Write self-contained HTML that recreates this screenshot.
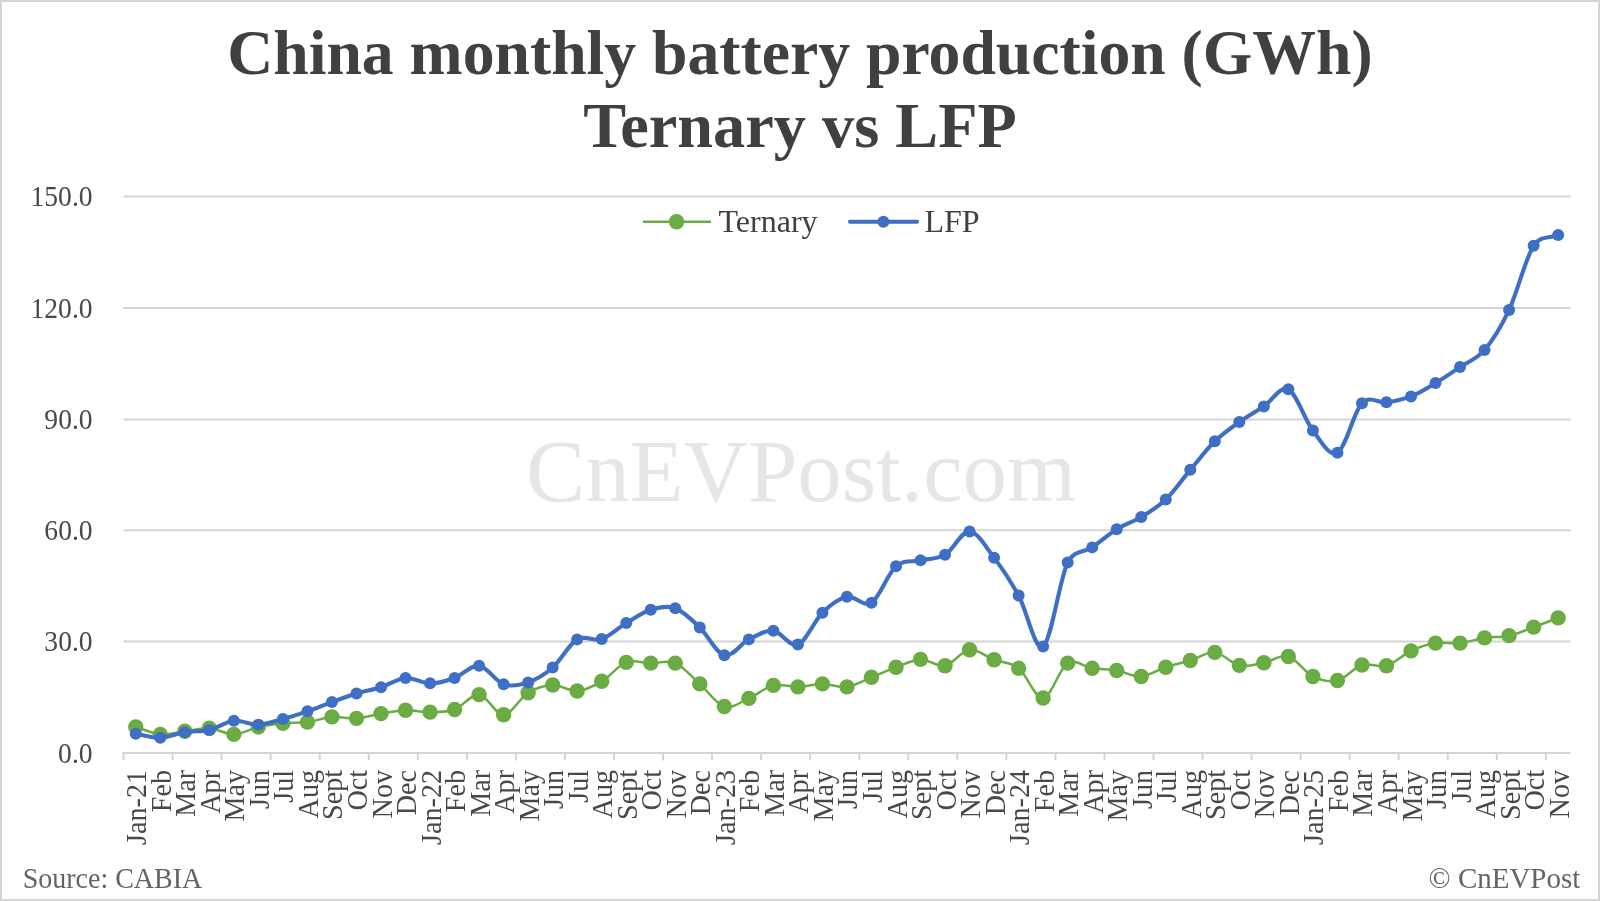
<!DOCTYPE html>
<html><head><meta charset="utf-8"><title>China monthly battery production</title>
<style>
html,body{margin:0;padding:0;background:#fff;}
body{width:1600px;height:901px;overflow:hidden;position:relative;}
svg{display:block;position:absolute;left:0;top:0;will-change:transform;}
text{font-family:"Liberation Serif",serif;}
</style></head><body>
<svg width="1600" height="901" viewBox="0 0 1600 901">
<rect x="0" y="0" width="1600" height="901" fill="#fff"/>
<rect x="1" y="1" width="1598" height="899" fill="none" stroke="#d6d6d6" stroke-width="2"/>
<text x="800" y="74" text-anchor="middle" font-weight="bold" font-size="63.7" fill="#404040">China monthly battery production (GWh)</text>
<text x="800" y="146.5" text-anchor="middle" font-weight="bold" font-size="64.3" fill="#404040">Ternary vs LFP</text>
<text x="801" y="500.8" text-anchor="middle" font-size="88.8" fill="#e6e6e6">CnEVPost.com</text>
<line x1="123.5" y1="641.56" x2="1570.4" y2="641.56" stroke="#d4d4d4" stroke-width="2"/>
<line x1="123.5" y1="530.33" x2="1570.4" y2="530.33" stroke="#d4d4d4" stroke-width="2"/>
<line x1="123.5" y1="419.55" x2="1570.4" y2="419.55" stroke="#d4d4d4" stroke-width="2"/>
<line x1="123.5" y1="308.00" x2="1570.4" y2="308.00" stroke="#d4d4d4" stroke-width="2"/>
<line x1="123.5" y1="196.44" x2="1570.4" y2="196.44" stroke="#d4d4d4" stroke-width="2"/>
<text transform="translate(92.6,762.80) scale(0.985,1.09)" text-anchor="end" font-size="28" fill="#484848">0.0</text>
<text transform="translate(92.6,651.46) scale(0.985,1.09)" text-anchor="end" font-size="28" fill="#484848">30.0</text>
<text transform="translate(92.6,540.23) scale(0.985,1.09)" text-anchor="end" font-size="28" fill="#484848">60.0</text>
<text transform="translate(92.6,429.45) scale(0.985,1.09)" text-anchor="end" font-size="28" fill="#484848">90.0</text>
<text transform="translate(92.6,317.90) scale(0.985,1.09)" text-anchor="end" font-size="28" fill="#484848">120.0</text>
<text transform="translate(92.6,206.34) scale(0.985,1.09)" text-anchor="end" font-size="28" fill="#484848">150.0</text>
<line x1="122.5" y1="752.90" x2="1570.4" y2="752.90" stroke="#d4d4d4" stroke-width="2"/>
<line x1="123.50" y1="752.90" x2="123.50" y2="760.40" stroke="#d4d4d4" stroke-width="2"/>
<line x1="172.55" y1="752.90" x2="172.55" y2="760.40" stroke="#d4d4d4" stroke-width="2"/>
<line x1="221.59" y1="752.90" x2="221.59" y2="760.40" stroke="#d4d4d4" stroke-width="2"/>
<line x1="270.64" y1="752.90" x2="270.64" y2="760.40" stroke="#d4d4d4" stroke-width="2"/>
<line x1="319.69" y1="752.90" x2="319.69" y2="760.40" stroke="#d4d4d4" stroke-width="2"/>
<line x1="368.74" y1="752.90" x2="368.74" y2="760.40" stroke="#d4d4d4" stroke-width="2"/>
<line x1="417.78" y1="752.90" x2="417.78" y2="760.40" stroke="#d4d4d4" stroke-width="2"/>
<line x1="466.83" y1="752.90" x2="466.83" y2="760.40" stroke="#d4d4d4" stroke-width="2"/>
<line x1="515.88" y1="752.90" x2="515.88" y2="760.40" stroke="#d4d4d4" stroke-width="2"/>
<line x1="564.93" y1="752.90" x2="564.93" y2="760.40" stroke="#d4d4d4" stroke-width="2"/>
<line x1="613.97" y1="752.90" x2="613.97" y2="760.40" stroke="#d4d4d4" stroke-width="2"/>
<line x1="663.02" y1="752.90" x2="663.02" y2="760.40" stroke="#d4d4d4" stroke-width="2"/>
<line x1="712.07" y1="752.90" x2="712.07" y2="760.40" stroke="#d4d4d4" stroke-width="2"/>
<line x1="761.12" y1="752.90" x2="761.12" y2="760.40" stroke="#d4d4d4" stroke-width="2"/>
<line x1="810.16" y1="752.90" x2="810.16" y2="760.40" stroke="#d4d4d4" stroke-width="2"/>
<line x1="859.21" y1="752.90" x2="859.21" y2="760.40" stroke="#d4d4d4" stroke-width="2"/>
<line x1="908.26" y1="752.90" x2="908.26" y2="760.40" stroke="#d4d4d4" stroke-width="2"/>
<line x1="957.31" y1="752.90" x2="957.31" y2="760.40" stroke="#d4d4d4" stroke-width="2"/>
<line x1="1006.35" y1="752.90" x2="1006.35" y2="760.40" stroke="#d4d4d4" stroke-width="2"/>
<line x1="1055.40" y1="752.90" x2="1055.40" y2="760.40" stroke="#d4d4d4" stroke-width="2"/>
<line x1="1104.45" y1="752.90" x2="1104.45" y2="760.40" stroke="#d4d4d4" stroke-width="2"/>
<line x1="1153.50" y1="752.90" x2="1153.50" y2="760.40" stroke="#d4d4d4" stroke-width="2"/>
<line x1="1202.54" y1="752.90" x2="1202.54" y2="760.40" stroke="#d4d4d4" stroke-width="2"/>
<line x1="1251.59" y1="752.90" x2="1251.59" y2="760.40" stroke="#d4d4d4" stroke-width="2"/>
<line x1="1300.64" y1="752.90" x2="1300.64" y2="760.40" stroke="#d4d4d4" stroke-width="2"/>
<line x1="1349.69" y1="752.90" x2="1349.69" y2="760.40" stroke="#d4d4d4" stroke-width="2"/>
<line x1="1398.73" y1="752.90" x2="1398.73" y2="760.40" stroke="#d4d4d4" stroke-width="2"/>
<line x1="1447.78" y1="752.90" x2="1447.78" y2="760.40" stroke="#d4d4d4" stroke-width="2"/>
<line x1="1496.83" y1="752.90" x2="1496.83" y2="760.40" stroke="#d4d4d4" stroke-width="2"/>
<line x1="1545.88" y1="752.90" x2="1545.88" y2="760.40" stroke="#d4d4d4" stroke-width="2"/>
<text transform="translate(146.26,770) rotate(-90) scale(1,1.08)" text-anchor="end" font-size="28.1" fill="#484848">Jan-21</text>
<text transform="translate(170.79,770) rotate(-90) scale(1,1.08)" text-anchor="end" font-size="28.1" fill="#484848">Feb</text>
<text transform="translate(195.31,770) rotate(-90) scale(1,1.08)" text-anchor="end" font-size="28.1" fill="#484848">Mar</text>
<text transform="translate(219.83,770) rotate(-90) scale(1,1.08)" text-anchor="end" font-size="28.1" fill="#484848">Apr</text>
<text transform="translate(244.36,770) rotate(-90) scale(1,1.08)" text-anchor="end" font-size="28.1" fill="#484848">May</text>
<text transform="translate(268.88,770) rotate(-90) scale(1,1.08)" text-anchor="end" font-size="28.1" fill="#484848">Jun</text>
<text transform="translate(293.40,770) rotate(-90) scale(1,1.08)" text-anchor="end" font-size="28.1" fill="#484848">Jul</text>
<text transform="translate(317.93,770) rotate(-90) scale(1,1.08)" text-anchor="end" font-size="28.1" fill="#484848">Aug</text>
<text transform="translate(342.45,770) rotate(-90) scale(1,1.08)" text-anchor="end" font-size="28.1" fill="#484848">Sept</text>
<text transform="translate(366.98,770) rotate(-90) scale(1,1.08)" text-anchor="end" font-size="28.1" fill="#484848">Oct</text>
<text transform="translate(391.50,770) rotate(-90) scale(1,1.08)" text-anchor="end" font-size="28.1" fill="#484848">Nov</text>
<text transform="translate(416.02,770) rotate(-90) scale(1,1.08)" text-anchor="end" font-size="28.1" fill="#484848">Dec</text>
<text transform="translate(440.55,770) rotate(-90) scale(1,1.08)" text-anchor="end" font-size="28.1" fill="#484848">Jan-22</text>
<text transform="translate(465.07,770) rotate(-90) scale(1,1.08)" text-anchor="end" font-size="28.1" fill="#484848">Feb</text>
<text transform="translate(489.59,770) rotate(-90) scale(1,1.08)" text-anchor="end" font-size="28.1" fill="#484848">Mar</text>
<text transform="translate(514.12,770) rotate(-90) scale(1,1.08)" text-anchor="end" font-size="28.1" fill="#484848">Apr</text>
<text transform="translate(538.64,770) rotate(-90) scale(1,1.08)" text-anchor="end" font-size="28.1" fill="#484848">May</text>
<text transform="translate(563.17,770) rotate(-90) scale(1,1.08)" text-anchor="end" font-size="28.1" fill="#484848">Jun</text>
<text transform="translate(587.69,770) rotate(-90) scale(1,1.08)" text-anchor="end" font-size="28.1" fill="#484848">Jul</text>
<text transform="translate(612.21,770) rotate(-90) scale(1,1.08)" text-anchor="end" font-size="28.1" fill="#484848">Aug</text>
<text transform="translate(636.74,770) rotate(-90) scale(1,1.08)" text-anchor="end" font-size="28.1" fill="#484848">Sept</text>
<text transform="translate(661.26,770) rotate(-90) scale(1,1.08)" text-anchor="end" font-size="28.1" fill="#484848">Oct</text>
<text transform="translate(685.78,770) rotate(-90) scale(1,1.08)" text-anchor="end" font-size="28.1" fill="#484848">Nov</text>
<text transform="translate(710.31,770) rotate(-90) scale(1,1.08)" text-anchor="end" font-size="28.1" fill="#484848">Dec</text>
<text transform="translate(734.83,770) rotate(-90) scale(1,1.08)" text-anchor="end" font-size="28.1" fill="#484848">Jan-23</text>
<text transform="translate(759.36,770) rotate(-90) scale(1,1.08)" text-anchor="end" font-size="28.1" fill="#484848">Feb</text>
<text transform="translate(783.88,770) rotate(-90) scale(1,1.08)" text-anchor="end" font-size="28.1" fill="#484848">Mar</text>
<text transform="translate(808.40,770) rotate(-90) scale(1,1.08)" text-anchor="end" font-size="28.1" fill="#484848">Apr</text>
<text transform="translate(832.93,770) rotate(-90) scale(1,1.08)" text-anchor="end" font-size="28.1" fill="#484848">May</text>
<text transform="translate(857.45,770) rotate(-90) scale(1,1.08)" text-anchor="end" font-size="28.1" fill="#484848">Jun</text>
<text transform="translate(881.97,770) rotate(-90) scale(1,1.08)" text-anchor="end" font-size="28.1" fill="#484848">Jul</text>
<text transform="translate(906.50,770) rotate(-90) scale(1,1.08)" text-anchor="end" font-size="28.1" fill="#484848">Aug</text>
<text transform="translate(931.02,770) rotate(-90) scale(1,1.08)" text-anchor="end" font-size="28.1" fill="#484848">Sept</text>
<text transform="translate(955.54,770) rotate(-90) scale(1,1.08)" text-anchor="end" font-size="28.1" fill="#484848">Oct</text>
<text transform="translate(980.07,770) rotate(-90) scale(1,1.08)" text-anchor="end" font-size="28.1" fill="#484848">Nov</text>
<text transform="translate(1004.59,770) rotate(-90) scale(1,1.08)" text-anchor="end" font-size="28.1" fill="#484848">Dec</text>
<text transform="translate(1029.12,770) rotate(-90) scale(1,1.08)" text-anchor="end" font-size="28.1" fill="#484848">Jan-24</text>
<text transform="translate(1053.64,770) rotate(-90) scale(1,1.08)" text-anchor="end" font-size="28.1" fill="#484848">Feb</text>
<text transform="translate(1078.16,770) rotate(-90) scale(1,1.08)" text-anchor="end" font-size="28.1" fill="#484848">Mar</text>
<text transform="translate(1102.69,770) rotate(-90) scale(1,1.08)" text-anchor="end" font-size="28.1" fill="#484848">Apr</text>
<text transform="translate(1127.21,770) rotate(-90) scale(1,1.08)" text-anchor="end" font-size="28.1" fill="#484848">May</text>
<text transform="translate(1151.73,770) rotate(-90) scale(1,1.08)" text-anchor="end" font-size="28.1" fill="#484848">Jun</text>
<text transform="translate(1176.26,770) rotate(-90) scale(1,1.08)" text-anchor="end" font-size="28.1" fill="#484848">Jul</text>
<text transform="translate(1200.78,770) rotate(-90) scale(1,1.08)" text-anchor="end" font-size="28.1" fill="#484848">Aug</text>
<text transform="translate(1225.31,770) rotate(-90) scale(1,1.08)" text-anchor="end" font-size="28.1" fill="#484848">Sept</text>
<text transform="translate(1249.83,770) rotate(-90) scale(1,1.08)" text-anchor="end" font-size="28.1" fill="#484848">Oct</text>
<text transform="translate(1274.35,770) rotate(-90) scale(1,1.08)" text-anchor="end" font-size="28.1" fill="#484848">Nov</text>
<text transform="translate(1298.88,770) rotate(-90) scale(1,1.08)" text-anchor="end" font-size="28.1" fill="#484848">Dec</text>
<text transform="translate(1323.40,770) rotate(-90) scale(1,1.08)" text-anchor="end" font-size="28.1" fill="#484848">Jan-25</text>
<text transform="translate(1347.92,770) rotate(-90) scale(1,1.08)" text-anchor="end" font-size="28.1" fill="#484848">Feb</text>
<text transform="translate(1372.45,770) rotate(-90) scale(1,1.08)" text-anchor="end" font-size="28.1" fill="#484848">Mar</text>
<text transform="translate(1396.97,770) rotate(-90) scale(1,1.08)" text-anchor="end" font-size="28.1" fill="#484848">Apr</text>
<text transform="translate(1421.50,770) rotate(-90) scale(1,1.08)" text-anchor="end" font-size="28.1" fill="#484848">May</text>
<text transform="translate(1446.02,770) rotate(-90) scale(1,1.08)" text-anchor="end" font-size="28.1" fill="#484848">Jun</text>
<text transform="translate(1470.54,770) rotate(-90) scale(1,1.08)" text-anchor="end" font-size="28.1" fill="#484848">Jul</text>
<text transform="translate(1495.07,770) rotate(-90) scale(1,1.08)" text-anchor="end" font-size="28.1" fill="#484848">Aug</text>
<text transform="translate(1519.59,770) rotate(-90) scale(1,1.08)" text-anchor="end" font-size="28.1" fill="#484848">Sept</text>
<text transform="translate(1544.11,770) rotate(-90) scale(1,1.08)" text-anchor="end" font-size="28.1" fill="#484848">Oct</text>
<text transform="translate(1568.64,770) rotate(-90) scale(1,1.08)" text-anchor="end" font-size="28.1" fill="#484848">Nov</text>
<path d="M135.76,726.93 C143.94,729.41 152.11,733.64 160.29,734.35 C168.46,735.06 176.63,732.22 184.81,731.20 C192.98,730.18 201.16,727.71 209.33,728.23 C217.51,728.76 225.68,734.57 233.86,734.35 C242.03,734.14 250.21,728.79 258.38,726.93 C266.56,725.08 274.73,724.03 282.90,723.22 C291.08,722.42 299.25,723.16 307.43,722.11 C315.60,721.06 323.78,717.53 331.95,716.92 C340.13,716.30 348.30,718.96 356.48,718.40 C364.65,717.84 372.82,714.94 381.00,713.58 C389.17,712.22 397.35,710.49 405.52,710.24 C413.70,709.99 421.87,712.22 430.05,712.09 C438.22,711.97 446.40,712.40 454.57,709.50 C462.74,706.59 470.92,693.79 479.09,694.66 C487.27,695.52 495.44,715.00 503.62,714.69 C511.79,714.38 519.97,697.75 528.14,692.80 C536.32,687.86 544.49,685.32 552.67,685.01 C560.84,684.70 569.01,691.57 577.19,690.95 C585.36,690.33 593.54,686.06 601.71,681.30 C609.89,676.54 618.06,665.41 626.24,662.38 C634.41,659.35 642.59,663.00 650.76,663.13 C658.93,663.25 667.11,659.66 675.28,663.13 C683.46,666.59 691.63,676.67 699.81,683.90 C707.98,691.13 716.16,704.12 724.33,706.53 C732.51,708.94 740.68,701.89 748.86,698.37 C757.03,694.84 765.20,687.30 773.38,685.38 C781.55,683.47 789.73,687.12 797.90,686.87 C806.08,686.62 814.25,683.90 822.43,683.90 C830.60,683.90 838.78,687.98 846.95,686.87 C855.12,685.76 863.30,680.50 871.47,677.22 C879.65,673.95 887.82,670.17 896.00,667.21 C904.17,664.24 912.35,659.66 920.52,659.42 C928.70,659.17 936.87,667.33 945.04,665.72 C953.22,664.12 961.39,650.76 969.57,649.77 C977.74,648.78 985.92,656.70 994.09,659.79 C1002.27,662.88 1010.44,661.95 1018.62,668.32 C1026.79,674.69 1034.97,698.86 1043.14,698.00 C1051.31,697.13 1059.49,668.07 1067.66,663.13 C1075.84,658.18 1084.01,667.08 1092.19,668.32 C1100.36,669.56 1108.54,669.19 1116.71,670.55 C1124.89,671.91 1133.06,677.04 1141.23,676.48 C1149.41,675.92 1157.58,669.87 1165.76,667.21 C1173.93,664.55 1182.11,663.00 1190.28,660.53 C1198.46,658.06 1206.63,651.56 1214.81,652.37 C1222.98,653.17 1231.16,663.62 1239.33,665.35 C1247.50,667.08 1255.68,664.24 1263.85,662.76 C1272.03,661.27 1280.20,654.16 1288.38,656.45 C1296.55,658.74 1304.73,672.46 1312.90,676.48 C1321.08,680.50 1329.25,682.48 1337.42,680.56 C1345.60,678.64 1353.77,667.45 1361.95,664.98 C1370.12,662.51 1378.30,668.07 1386.47,665.72 C1394.65,663.37 1402.82,654.66 1411.00,650.88 C1419.17,647.11 1427.34,644.39 1435.52,643.09 C1443.69,641.80 1451.87,643.96 1460.04,643.09 C1468.22,642.23 1476.39,639.14 1484.57,637.90 C1492.74,636.66 1500.92,637.47 1509.09,635.67 C1517.27,633.88 1525.44,630.11 1533.61,627.14 C1541.79,624.17 1549.96,620.96 1558.14,617.87" fill="none" stroke="#6aac43" stroke-width="2.5" stroke-linejoin="round" stroke-linecap="round"/>
<circle cx="135.76" cy="726.93" r="7.7" fill="#6aac43"/>
<circle cx="160.29" cy="734.35" r="7.7" fill="#6aac43"/>
<circle cx="184.81" cy="731.20" r="7.7" fill="#6aac43"/>
<circle cx="209.33" cy="728.23" r="7.7" fill="#6aac43"/>
<circle cx="233.86" cy="734.35" r="7.7" fill="#6aac43"/>
<circle cx="258.38" cy="726.93" r="7.7" fill="#6aac43"/>
<circle cx="282.90" cy="723.22" r="7.7" fill="#6aac43"/>
<circle cx="307.43" cy="722.11" r="7.7" fill="#6aac43"/>
<circle cx="331.95" cy="716.92" r="7.7" fill="#6aac43"/>
<circle cx="356.48" cy="718.40" r="7.7" fill="#6aac43"/>
<circle cx="381.00" cy="713.58" r="7.7" fill="#6aac43"/>
<circle cx="405.52" cy="710.24" r="7.7" fill="#6aac43"/>
<circle cx="430.05" cy="712.09" r="7.7" fill="#6aac43"/>
<circle cx="454.57" cy="709.50" r="7.7" fill="#6aac43"/>
<circle cx="479.09" cy="694.66" r="7.7" fill="#6aac43"/>
<circle cx="503.62" cy="714.69" r="7.7" fill="#6aac43"/>
<circle cx="528.14" cy="692.80" r="7.7" fill="#6aac43"/>
<circle cx="552.67" cy="685.01" r="7.7" fill="#6aac43"/>
<circle cx="577.19" cy="690.95" r="7.7" fill="#6aac43"/>
<circle cx="601.71" cy="681.30" r="7.7" fill="#6aac43"/>
<circle cx="626.24" cy="662.38" r="7.7" fill="#6aac43"/>
<circle cx="650.76" cy="663.13" r="7.7" fill="#6aac43"/>
<circle cx="675.28" cy="663.13" r="7.7" fill="#6aac43"/>
<circle cx="699.81" cy="683.90" r="7.7" fill="#6aac43"/>
<circle cx="724.33" cy="706.53" r="7.7" fill="#6aac43"/>
<circle cx="748.86" cy="698.37" r="7.7" fill="#6aac43"/>
<circle cx="773.38" cy="685.38" r="7.7" fill="#6aac43"/>
<circle cx="797.90" cy="686.87" r="7.7" fill="#6aac43"/>
<circle cx="822.43" cy="683.90" r="7.7" fill="#6aac43"/>
<circle cx="846.95" cy="686.87" r="7.7" fill="#6aac43"/>
<circle cx="871.47" cy="677.22" r="7.7" fill="#6aac43"/>
<circle cx="896.00" cy="667.21" r="7.7" fill="#6aac43"/>
<circle cx="920.52" cy="659.42" r="7.7" fill="#6aac43"/>
<circle cx="945.04" cy="665.72" r="7.7" fill="#6aac43"/>
<circle cx="969.57" cy="649.77" r="7.7" fill="#6aac43"/>
<circle cx="994.09" cy="659.79" r="7.7" fill="#6aac43"/>
<circle cx="1018.62" cy="668.32" r="7.7" fill="#6aac43"/>
<circle cx="1043.14" cy="698.00" r="7.7" fill="#6aac43"/>
<circle cx="1067.66" cy="663.13" r="7.7" fill="#6aac43"/>
<circle cx="1092.19" cy="668.32" r="7.7" fill="#6aac43"/>
<circle cx="1116.71" cy="670.55" r="7.7" fill="#6aac43"/>
<circle cx="1141.23" cy="676.48" r="7.7" fill="#6aac43"/>
<circle cx="1165.76" cy="667.21" r="7.7" fill="#6aac43"/>
<circle cx="1190.28" cy="660.53" r="7.7" fill="#6aac43"/>
<circle cx="1214.81" cy="652.37" r="7.7" fill="#6aac43"/>
<circle cx="1239.33" cy="665.35" r="7.7" fill="#6aac43"/>
<circle cx="1263.85" cy="662.76" r="7.7" fill="#6aac43"/>
<circle cx="1288.38" cy="656.45" r="7.7" fill="#6aac43"/>
<circle cx="1312.90" cy="676.48" r="7.7" fill="#6aac43"/>
<circle cx="1337.42" cy="680.56" r="7.7" fill="#6aac43"/>
<circle cx="1361.95" cy="664.98" r="7.7" fill="#6aac43"/>
<circle cx="1386.47" cy="665.72" r="7.7" fill="#6aac43"/>
<circle cx="1411.00" cy="650.88" r="7.7" fill="#6aac43"/>
<circle cx="1435.52" cy="643.09" r="7.7" fill="#6aac43"/>
<circle cx="1460.04" cy="643.09" r="7.7" fill="#6aac43"/>
<circle cx="1484.57" cy="637.90" r="7.7" fill="#6aac43"/>
<circle cx="1509.09" cy="635.67" r="7.7" fill="#6aac43"/>
<circle cx="1533.61" cy="627.14" r="7.7" fill="#6aac43"/>
<circle cx="1558.14" cy="617.87" r="7.7" fill="#6aac43"/>
<path d="M135.76,733.80 C143.94,735.09 152.11,737.97 160.29,737.69 C168.46,737.41 176.63,733.42 184.81,732.13 C192.98,730.83 201.16,731.79 209.33,729.90 C217.51,728.01 225.68,721.68 233.86,720.81 C242.03,719.95 250.21,725.02 258.38,724.71 C266.56,724.40 274.73,721.18 282.90,718.96 C291.08,716.73 299.25,714.16 307.43,711.35 C315.60,708.54 323.78,705.05 331.95,702.08 C340.13,699.11 348.30,696.02 356.48,693.55 C364.65,691.07 372.82,689.84 381.00,687.24 C389.17,684.64 397.35,678.61 405.52,677.96 C413.70,677.32 421.87,683.34 430.05,683.34 C438.22,683.34 446.40,680.90 454.57,677.96 C462.74,675.03 470.92,664.67 479.09,665.72 C487.27,666.77 495.44,681.49 503.62,684.27 C511.79,687.05 519.97,685.20 528.14,682.42 C536.32,679.63 544.49,674.75 552.67,667.58 C560.84,660.41 569.01,644.14 577.19,639.38 C585.36,634.62 593.54,641.73 601.71,639.01 C609.89,636.29 618.06,627.95 626.24,623.06 C634.41,618.18 642.59,612.18 650.76,609.71 C658.93,607.23 667.11,605.26 675.28,608.22 C683.46,611.19 691.63,619.66 699.81,627.51 C707.98,635.37 716.16,653.36 724.33,655.34 C732.51,657.31 740.68,643.46 748.86,639.38 C757.03,635.30 765.20,629.99 773.38,630.85 C781.55,631.72 789.73,647.61 797.90,644.58 C806.08,641.55 814.25,620.65 822.43,612.67 C830.60,604.70 838.78,598.39 846.95,596.72 C855.12,595.05 863.30,607.73 871.47,602.66 C879.65,597.59 887.82,573.35 896.00,566.30 C904.17,559.26 912.35,562.28 920.52,560.37 C928.70,558.45 936.87,559.63 945.04,554.80 C953.22,549.98 961.39,530.94 969.57,531.43 C977.74,531.93 985.92,547.08 994.09,557.77 C1002.27,568.47 1010.44,580.83 1018.62,595.61 C1026.79,610.39 1034.97,651.94 1043.14,646.43 C1051.31,640.93 1059.49,579.10 1067.66,562.59 C1074.07,549.66 1084.01,552.95 1092.19,547.38 C1100.36,541.82 1108.54,534.28 1116.71,529.21 C1124.89,524.14 1133.06,521.91 1141.23,516.97 C1149.41,512.02 1157.58,507.38 1165.76,499.53 C1173.93,491.68 1182.11,479.56 1190.28,469.85 C1198.46,460.15 1206.63,449.26 1214.81,441.29 C1222.98,433.31 1231.16,427.81 1239.33,422.00 C1247.50,416.19 1255.68,411.86 1263.85,406.42 C1272.03,400.98 1280.20,385.33 1288.38,389.35 C1296.55,393.37 1304.73,419.96 1312.90,430.53 C1321.08,441.10 1329.25,457.33 1337.42,452.79 C1345.60,448.24 1353.77,411.67 1361.95,403.26 C1370.12,394.86 1378.30,403.48 1386.47,402.34 C1394.65,401.19 1402.82,399.62 1411.00,396.40 C1419.17,393.19 1427.34,387.93 1435.52,383.05 C1443.69,378.16 1451.87,372.60 1460.04,367.09 C1468.22,361.59 1476.39,359.55 1484.57,350.03 C1492.74,340.51 1500.92,327.34 1509.09,309.97 C1517.27,292.59 1525.44,258.28 1533.61,245.79 C1540.95,234.59 1549.96,238.62 1558.14,235.03" fill="none" stroke="#3f6ec5" stroke-width="4.1" stroke-linejoin="round" stroke-linecap="round"/>
<circle cx="135.76" cy="733.80" r="6" fill="#3f6ec5"/>
<circle cx="160.29" cy="737.69" r="6" fill="#3f6ec5"/>
<circle cx="184.81" cy="732.13" r="6" fill="#3f6ec5"/>
<circle cx="209.33" cy="729.90" r="6" fill="#3f6ec5"/>
<circle cx="233.86" cy="720.81" r="6" fill="#3f6ec5"/>
<circle cx="258.38" cy="724.71" r="6" fill="#3f6ec5"/>
<circle cx="282.90" cy="718.96" r="6" fill="#3f6ec5"/>
<circle cx="307.43" cy="711.35" r="6" fill="#3f6ec5"/>
<circle cx="331.95" cy="702.08" r="6" fill="#3f6ec5"/>
<circle cx="356.48" cy="693.55" r="6" fill="#3f6ec5"/>
<circle cx="381.00" cy="687.24" r="6" fill="#3f6ec5"/>
<circle cx="405.52" cy="677.96" r="6" fill="#3f6ec5"/>
<circle cx="430.05" cy="683.34" r="6" fill="#3f6ec5"/>
<circle cx="454.57" cy="677.96" r="6" fill="#3f6ec5"/>
<circle cx="479.09" cy="665.72" r="6" fill="#3f6ec5"/>
<circle cx="503.62" cy="684.27" r="6" fill="#3f6ec5"/>
<circle cx="528.14" cy="682.42" r="6" fill="#3f6ec5"/>
<circle cx="552.67" cy="667.58" r="6" fill="#3f6ec5"/>
<circle cx="577.19" cy="639.38" r="6" fill="#3f6ec5"/>
<circle cx="601.71" cy="639.01" r="6" fill="#3f6ec5"/>
<circle cx="626.24" cy="623.06" r="6" fill="#3f6ec5"/>
<circle cx="650.76" cy="609.71" r="6" fill="#3f6ec5"/>
<circle cx="675.28" cy="608.22" r="6" fill="#3f6ec5"/>
<circle cx="699.81" cy="627.51" r="6" fill="#3f6ec5"/>
<circle cx="724.33" cy="655.34" r="6" fill="#3f6ec5"/>
<circle cx="748.86" cy="639.38" r="6" fill="#3f6ec5"/>
<circle cx="773.38" cy="630.85" r="6" fill="#3f6ec5"/>
<circle cx="797.90" cy="644.58" r="6" fill="#3f6ec5"/>
<circle cx="822.43" cy="612.67" r="6" fill="#3f6ec5"/>
<circle cx="846.95" cy="596.72" r="6" fill="#3f6ec5"/>
<circle cx="871.47" cy="602.66" r="6" fill="#3f6ec5"/>
<circle cx="896.00" cy="566.30" r="6" fill="#3f6ec5"/>
<circle cx="920.52" cy="560.37" r="6" fill="#3f6ec5"/>
<circle cx="945.04" cy="554.80" r="6" fill="#3f6ec5"/>
<circle cx="969.57" cy="531.43" r="6" fill="#3f6ec5"/>
<circle cx="994.09" cy="557.77" r="6" fill="#3f6ec5"/>
<circle cx="1018.62" cy="595.61" r="6" fill="#3f6ec5"/>
<circle cx="1043.14" cy="646.43" r="6" fill="#3f6ec5"/>
<circle cx="1067.66" cy="562.59" r="6" fill="#3f6ec5"/>
<circle cx="1092.19" cy="547.38" r="6" fill="#3f6ec5"/>
<circle cx="1116.71" cy="529.21" r="6" fill="#3f6ec5"/>
<circle cx="1141.23" cy="516.97" r="6" fill="#3f6ec5"/>
<circle cx="1165.76" cy="499.53" r="6" fill="#3f6ec5"/>
<circle cx="1190.28" cy="469.85" r="6" fill="#3f6ec5"/>
<circle cx="1214.81" cy="441.29" r="6" fill="#3f6ec5"/>
<circle cx="1239.33" cy="422.00" r="6" fill="#3f6ec5"/>
<circle cx="1263.85" cy="406.42" r="6" fill="#3f6ec5"/>
<circle cx="1288.38" cy="389.35" r="6" fill="#3f6ec5"/>
<circle cx="1312.90" cy="430.53" r="6" fill="#3f6ec5"/>
<circle cx="1337.42" cy="452.79" r="6" fill="#3f6ec5"/>
<circle cx="1361.95" cy="403.26" r="6" fill="#3f6ec5"/>
<circle cx="1386.47" cy="402.34" r="6" fill="#3f6ec5"/>
<circle cx="1411.00" cy="396.40" r="6" fill="#3f6ec5"/>
<circle cx="1435.52" cy="383.05" r="6" fill="#3f6ec5"/>
<circle cx="1460.04" cy="367.09" r="6" fill="#3f6ec5"/>
<circle cx="1484.57" cy="350.03" r="6" fill="#3f6ec5"/>
<circle cx="1509.09" cy="309.97" r="6" fill="#3f6ec5"/>
<circle cx="1533.61" cy="245.79" r="6" fill="#3f6ec5"/>
<circle cx="1558.14" cy="235.03" r="6" fill="#3f6ec5"/>
<line x1="643" y1="221.7" x2="711" y2="221.7" stroke="#6aac43" stroke-width="2.5"/>
<circle cx="676.6" cy="221.7" r="7.7" fill="#6aac43"/>
<text x="718.5" y="232.2" font-size="32" fill="#404040">Ternary</text>
<line x1="850" y1="221.7" x2="917" y2="221.7" stroke="#3f6ec5" stroke-width="4.1" stroke-linecap="round"/>
<circle cx="883.4" cy="221.7" r="6" fill="#3f6ec5"/>
<text x="924.5" y="232.2" font-size="32" fill="#404040">LFP</text>
<text transform="translate(22.7,887.6) scale(1,1.07)" font-size="28" fill="#646464">Source: CABIA</text>
<text transform="translate(1580.3,887.7) scale(1,1.05)" text-anchor="end" font-size="29" fill="#646464">© CnEVPost</text>
</svg>
</body></html>
